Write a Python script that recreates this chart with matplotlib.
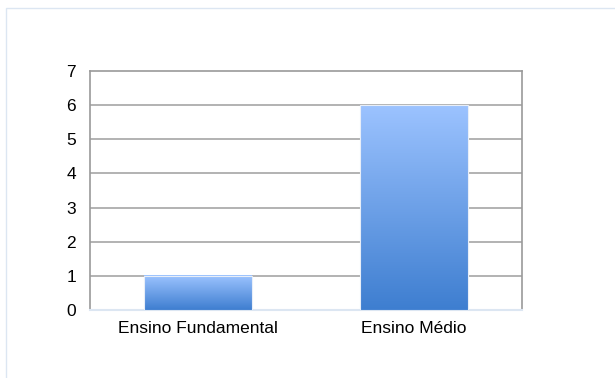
import numpy as np
import matplotlib
matplotlib.use("Agg")
import matplotlib.pyplot as plt
from matplotlib.colors import LinearSegmentedColormap
from matplotlib.patches import Rectangle

categories = ["Ensino Fundamental", "Ensino Médio"]
values = [1, 6]
yticks = [0, 1, 2, 3, 4, 5, 6, 7]

plt.rcParams['font.family'] = ['Liberation Sans', 'DejaVu Sans']

fig = plt.figure(figsize=(6.15, 3.78), dpi=100)
# outer chart border
fig.patches.append(Rectangle((5.5/615, -0.1), 1.2, (378-7.5)/378 + 0.1,
                             transform=fig.transFigure, fill=False,
                             edgecolor='#DCE6F2', linewidth=1.0))

ax = fig.add_axes([90/615, 1-310/378, (522-90)/615, (310-71)/378])
ax.set_xlim(-0.5, 1.5)
ax.set_ylim(0, 7)

cmap = LinearSegmentedColormap.from_list("g", ["#3E7ED0", "#9CC3FF"])
grad = np.linspace(0, 1, 256).reshape(-1, 1)
width = 0.5
for i, v in enumerate(values):
    ax.imshow(grad, extent=[i - width/2, i + width/2, 0, v], origin='lower',
              aspect='auto', cmap=cmap, zorder=3)
    ax.add_patch(Rectangle((i - width/2, 0), width, v, fill=False,
                           edgecolor='#E8EEF8', linewidth=0.8, zorder=4))
ax.set_xlim(-0.5, 1.5)
ax.set_ylim(0, 7)

ax.set_yticks(yticks)
ax.set_xticks(range(len(categories)))
ax.set_xticklabels(categories)
ax.tick_params(axis='both', length=0, labelsize=12.5, colors='black')
ax.tick_params(axis='y', pad=10)
ax.tick_params(axis='x', pad=8)
for y in yticks[1:-1]:
    ax.axhline(y, color='#A6A6A6', linewidth=1.2, zorder=1)
for s in ['left', 'top', 'right']:
    ax.spines[s].set_color('#9A9A9A')
    ax.spines[s].set_linewidth(1.2)
ax.spines['bottom'].set_color('#DCE6F2')
ax.spines['bottom'].set_linewidth(1.5)

fig.savefig("out.png", dpi=100)
